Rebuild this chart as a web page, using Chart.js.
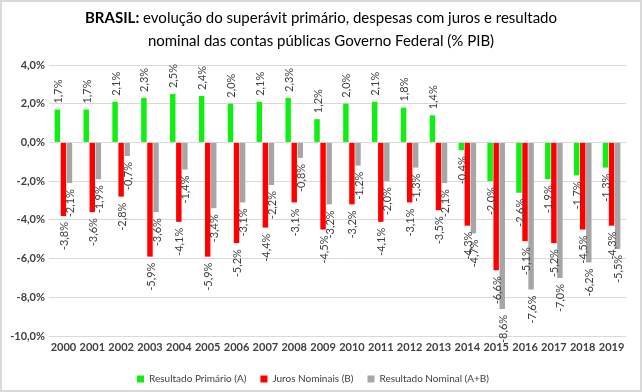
<!DOCTYPE html>
<html>
<head>
<meta charset="utf-8">
<script src="https://cdn.jsdelivr.net/npm/chart.js@4"></script>
<style>
  html, body { margin: 0; padding: 0; background: #fff; }
  #wrap { position: relative; width: 642px; height: 392px; overflow: hidden; }
  #c { position: absolute; left: 0; top: 0; }
  #title { position: absolute; left: 0; top: 6px; width: 642px; text-align: center;
           font-family: Lato, "Liberation Sans", sans-serif; font-size: 15px; line-height: 23px; color: #000; }
  #frame { position: absolute; left: 0; top: 0; width: 642px; height: 392px; box-sizing: border-box;
           border: 2px solid #d9d9d9; pointer-events: none; }
</style>
</head>
<body>
<div id="wrap">
  <canvas id="c" width="642" height="392"></canvas>
  <div id="title"><b>BRASIL:</b> evolução do superávit primário, despesas com juros e resultado<br>nominal das contas públicas Governo Federal (% PIB)</div>
  <div id="frame"></div>
</div>
<script>
const years = ['2000','2001','2002','2003','2004','2005','2006','2007','2008','2009',
               '2010','2011','2012','2013','2014','2015','2016','2017','2018','2019'];
const primario = [1.7, 1.7, 2.1, 2.3, 2.5, 2.4, 2.0, 2.1, 2.3, 1.2,
                  2.0, 2.1, 1.8, 1.4, -0.4, -2.0, -2.6, -1.9, -1.7, -1.3];
const juros = [-3.8, -3.6, -2.8, -5.9, -4.1, -5.9, -5.2, -4.4, -3.1, -4.5,
               -3.2, -4.1, -3.1, -3.5, -4.3, -6.6, -5.1, -5.2, -4.5, -4.3];
const nominal = [-2.1, -1.9, -0.7, -3.6, -1.4, -3.4, -3.1, -2.2, -0.8, -3.2,
                 -1.2, -2.0, -1.3, -2.1, -4.7, -8.6, -7.6, -7.0, -6.2, -5.5];
const seriesNames = ['Resultado Primário (A)', 'Juros Nominais (B)', 'Resultado Nominal (A+B)'];
const yMin = -10, yMax = 4, yStep = 2;

const fmt = v => v.toFixed(1).replace('.', ',') + '%';
const FONT = 'Lato, "Liberation Sans", sans-serif';

const labelPlugin = {
  id: 'barLabels',
  afterDatasetsDraw(chart) {
    const ctx = chart.ctx;
    ctx.save();
    ctx.font = '11px ' + FONT;
    ctx.fillStyle = '#404040';
    ctx.textBaseline = 'middle';
    chart.data.datasets.forEach((ds, i) => {
      const meta = chart.getDatasetMeta(i);
      meta.data.forEach((el, j) => {
        const v = ds.data[j];
        ctx.save();
        ctx.translate(el.x + 1, el.y);
        ctx.rotate(-Math.PI / 2);
        if (v >= 0) { ctx.textAlign = 'left'; ctx.fillText(fmt(v), 6, 0); }
        else { ctx.textAlign = 'right'; ctx.fillText(fmt(v), -6, 0); }
        ctx.restore();
      });
    });
    ctx.restore();
  }
};

new Chart(document.getElementById('c'), {
  type: 'bar',
  data: {
    labels: years,
    datasets: [
      { label: seriesNames[0], data: primario, backgroundColor: '#11ee11' },
      { label: seriesNames[1], data: juros, backgroundColor: '#ff0000' },
      { label: seriesNames[2], data: nominal, backgroundColor: '#a6a6a6' }
    ]
  },
  options: {
    responsive: false,
    animation: false,
    devicePixelRatio: 1,
    datasets: { bar: { categoryPercentage: 0.63, barPercentage: 0.9 } },
    layout: { padding: { top: 65, right: 16, left: 0, bottom: -2 } },
    plugins: {
      title: { display: false },
      tooltip: { enabled: false },
      legend: {
        position: 'bottom',
        labels: { boxWidth: 7, boxHeight: 7, padding: 14, color: '#404040',
                  font: { family: FONT, size: 10 } }
      }
    },
    scales: {
      x: {
        afterFit(s) { s.height = 24; },
        grid: { display: false, drawTicks: false },
        border: { display: false },
        ticks: { color: '#404040', font: { family: FONT, size: 11, weight: 'bold' }, maxRotation: 0, padding: 5 }
      },
      y: {
        min: yMin, max: yMax,
        afterFit(s) { s.width = 49; },
        grid: { color: '#d9d9d9', drawTicks: false },
        border: { display: false },
        ticks: { stepSize: yStep, color: '#404040', padding: 4,
                 font: { family: FONT, size: 11, weight: 'bold' },
                 callback: v => fmt(v) }
      }
    }
  },
  plugins: [labelPlugin]
});
</script>
</body>
</html>
